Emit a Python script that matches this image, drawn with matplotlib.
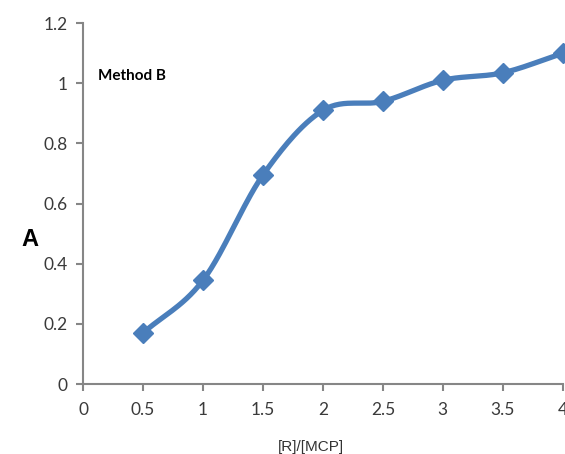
import numpy as np
import matplotlib.pyplot as plt

ratio = [0.5, 1, 1.5, 2, 2.5, 3, 3.5, 4]
absorb = [0.17, 0.345, 0.695, 0.91, 0.94, 1.01, 1.035, 1.1]


def smooth(x, y, n=30):
    # catmull-rom like Excel's smoothed line
    x = np.asarray(x, float)
    y = np.asarray(y, float)
    px = np.concatenate([[2 * x[0] - x[1]], x, [2 * x[-1] - x[-2]]])
    py = np.concatenate([[2 * y[0] - y[1]], y, [2 * y[-1] - y[-2]]])
    xs, ys = [], []
    t = np.linspace(0, 1, n)
    for i in range(1, len(px) - 2):
        p0, p1, p2, p3 = [np.array([px[j], py[j]]) for j in range(i - 1, i + 3)]
        b1 = p1 + (p2 - p0) / 6
        b2 = p2 - (p3 - p1) / 6
        pts = ((1 - t) ** 3)[:, None] * p1 + (3 * (1 - t) ** 2 * t)[:, None] * b1 \
            + (3 * (1 - t) * t ** 2)[:, None] * b2 + (t ** 3)[:, None] * p2
        xs.extend(pts[:, 0])
        ys.extend(pts[:, 1])
    return xs, ys


plt.rcParams['font.family'] = ['Lato', 'DejaVu Sans']
fig = plt.figure(figsize=(5.65, 4.54), dpi=100)
ax = fig.add_axes([0.147, 0.154, 0.849, 0.795])

color = '#4a7ebb'
sx, sy = smooth(ratio, absorb)
ax.plot(sx, sy, color=color, lw=3.8, solid_capstyle='round', clip_on=False)
ax.plot(ratio, absorb, 'D', color=color, markersize=10.5, clip_on=False)

ax.set_xlim(0, 4)
ax.set_ylim(0, 1.2)
ax.set_xticks(np.arange(0, 4.01, 0.5))
ax.set_xticklabels(['0', '0.5', '1', '1.5', '2', '2.5', '3', '3.5', '4'])
ax.set_yticks(np.arange(0, 1.21, 0.2))
ax.set_yticklabels(['0', '0.2', '0.4', '0.6', '0.8', '1', '1.2'])

for s in ['top', 'right']:
    ax.spines[s].set_visible(False)
for s in ['left', 'bottom']:
    ax.spines[s].set_color('#868686')
    ax.spines[s].set_linewidth(1.5)
ax.tick_params(colors='#868686', length=5, width=1.5, labelsize=12.5,
               labelcolor='#3a3a3a')
ax.tick_params(axis='x', pad=8)
ax.tick_params(axis='y', pad=6)

ax.text(0.125, 1.025, 'Method B', fontsize=11, fontweight='bold', va='center')
ax.set_ylabel('A', fontsize=17, fontweight='bold', rotation=0,
              family='Liberation Sans', va='center', ha='center')
ax.yaxis.set_label_coords(-0.11, 0.40)
ax.set_xlabel('[R]/[MCP]', fontsize=11, family='Liberation Sans',
              color='#333333', va='center')
ax.xaxis.set_label_coords(0.475, -0.175)

fig.savefig('out.png', dpi=100)
